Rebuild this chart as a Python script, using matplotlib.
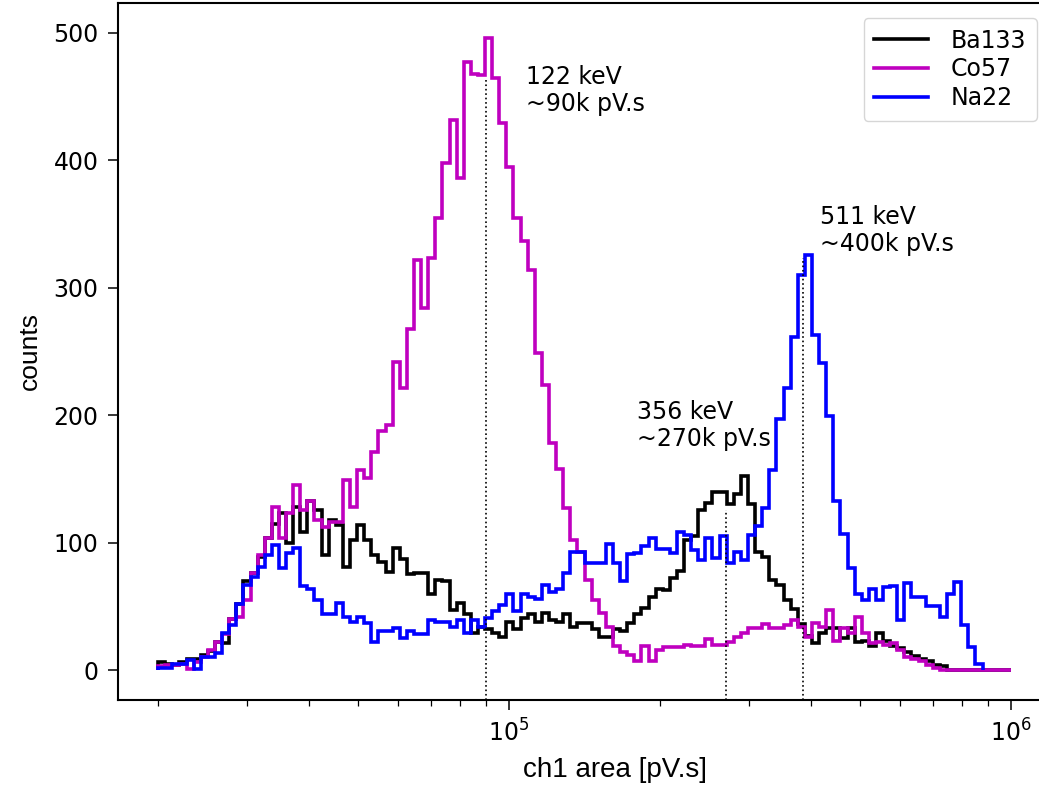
import numpy as np
import matplotlib
matplotlib.use("Agg")
import matplotlib.pyplot as plt

# histogram counts per log-spaced bin (2e4 .. 1e6 pV.s)
BIN_LO = 2e4
BIN_HI = 1e6

BA133 = [6, 5, 4, 6, 9, 9, 12, 15, 22, 21,
         40, 52, 70, 76, 89, 104, 115, 123, 100, 128,
         108, 133, 126, 90, 118, 114, 81, 102, 114, 102,
         90, 85, 77, 96, 87, 75, 76, 76, 60, 71,
         70, 47, 53, 44, 29, 34, 32, 29, 26, 38,
         32, 41, 44, 38, 45, 39, 38, 44, 34, 37,
         37, 32, 26, 26, 32, 31, 37, 44, 49, 57,
         64, 63, 72, 78, 102, 105, 126, 131, 140, 140,
         130, 138, 152, 130, 93, 89, 71, 67, 55, 48,
         36, 27, 21, 29, 33, 33, 25, 33, 22, 23,
         19, 29, 23, 19, 17, 14, 11, 9, 7, 4,
         3, 0, 0, 0, 0, 0, 0, 0, 0, 0]

CO57 = [3, 4, 4, 5, 1, 6, 10, 16, 22, 28,
        40, 42, 55, 76, 90, 104, 128, 104, 123, 145,
        126, 133, 118, 112, 116, 116, 149, 128, 157, 151,
        171, 188, 192, 242, 221, 268, 322, 284, 323, 355,
        398, 432, 386, 477, 468, 467, 496, 465, 429, 395,
        355, 337, 314, 249, 224, 178, 158, 127, 102, 93,
        71, 55, 45, 34, 19, 14, 12, 7, 19, 7,
        16, 18, 18, 18, 20, 19, 19, 24, 20, 20,
        22, 26, 29, 33, 33, 36, 33, 33, 35, 39,
        34, 26, 37, 34, 47, 23, 33, 29, 42, 29,
        21, 22, 20, 21, 16, 10, 9, 7, 4, 2,
        0, 0, 0, 0, 0, 0, 0, 0, 0, 0]

NA22 = [2, 2, 5, 5, 8, 1, 10, 10, 13, 29,
        35, 52, 67, 73, 81, 90, 98, 80, 92, 96,
        66, 64, 55, 44, 44, 53, 42, 38, 42, 37,
        22, 31, 31, 33, 25, 31, 28, 28, 39, 38,
        38, 34, 39, 29, 39, 34, 41, 46, 51, 60,
        46, 60, 57, 56, 67, 61, 64, 76, 93, 93,
        84, 84, 84, 99, 84, 70, 91, 92, 97, 104,
        95, 95, 92, 108, 106, 94, 86, 104, 88, 105,
        84, 93, 86, 106, 113, 127, 157, 197, 221, 261,
        310, 326, 263, 241, 199, 133, 107, 80, 60, 55,
        64, 55, 65, 66, 39, 68, 57, 57, 50, 50,
        42, 60, 69, 35, 18, 5]

# photopeak markers
PEAK_X = [9e4, 2.7e5, 3.85e5]
PEAK_TOP = [465, 126, 323]
PEAK_TEXT = ["122 keV\n~90k pV.s", "356 keV\n~270k pV.s", "511 keV\n~400k pV.s"]
TEXT_POS = [(1.08e5, 475), (1.80e5, 212), (4.16e5, 365)]

edges = np.logspace(np.log10(BIN_LO), np.log10(BIN_HI), len(BA133) + 1)

fig = plt.figure(figsize=(10.39, 7.86), dpi=100)
ax = fig.add_axes([118 / 1039, 86 / 786, 932 / 1039, 697 / 786])

lw = 2.6
ax.stairs(BA133, edges, color='k', linewidth=lw, label='Ba133')
ax.stairs(CO57, edges, color='m', linewidth=lw, label='Co57')
ax.stairs(NA22, edges[:len(NA22) + 1], color='b', linewidth=lw, label='Na22')

ax.set_xscale('log')
ax.set_xlim(10 ** 4.2211, 10 ** 6.0777)
ax.set_ylim(-23.5, 523.5)

ax.vlines(PEAK_X, -23.5, PEAK_TOP, colors='k', linestyles=':', linewidth=1.2)
for (tx, ty), txt in zip(TEXT_POS, PEAK_TEXT):
    ax.text(tx, ty, txt, fontsize=17, va='top', ha='left', linespacing=1.15)

ax.set_yticks([0, 100, 200, 300, 400, 500])
ax.tick_params(axis='both', which='major', labelsize=17, length=7, width=1.1, pad=7)
ax.tick_params(axis='x', which='minor', length=4, width=0.9)
for s in ax.spines.values():
    s.set_linewidth(1.5)

ax.set_xlabel("ch1 area [pV.s]", fontsize=20, family=['Liberation Sans', 'DejaVu Sans'])
ax.xaxis.set_label_coords(0.533, -0.082)
ax.set_ylabel("counts", fontsize=19, family=['Liberation Sans', 'DejaVu Sans'])
ax.yaxis.set_label_coords(-0.082, 0.5)

ax.legend(loc='upper right', bbox_to_anchor=(1037 / 1039, 1 - 18 / 786),
          bbox_transform=fig.transFigure, borderaxespad=0, fontsize=17,
          handlelength=2.3, handletextpad=0.95, borderpad=0.45, labelspacing=0.2)

fig.savefig("out.png", dpi=100)
